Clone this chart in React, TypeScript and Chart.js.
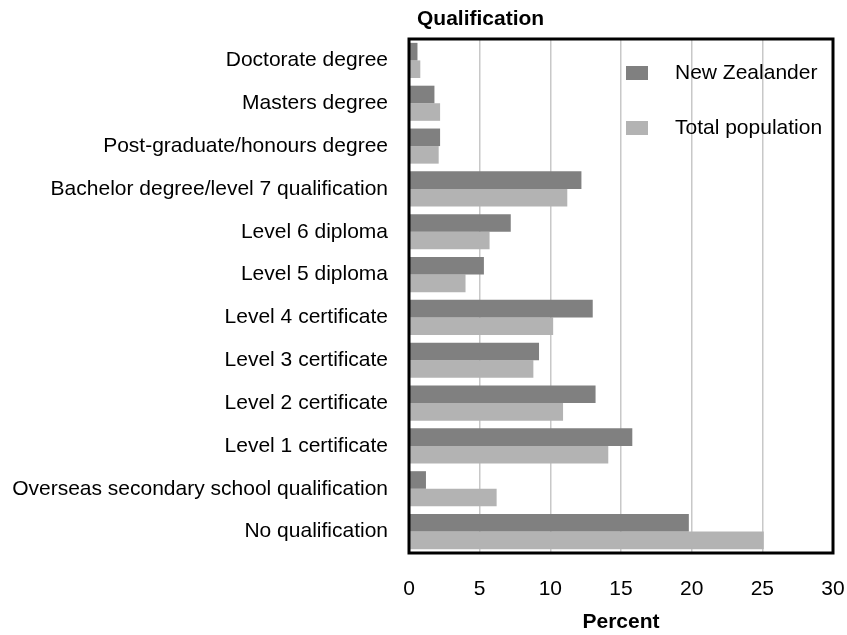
import React, { useEffect, useRef } from "react";
import { Chart, registerables } from "chart.js";

Chart.register(...registerables);

const categories = [
  "Doctorate degree",
  "Masters degree",
  "Post-graduate/honours degree",
  "Bachelor degree/level 7 qualification",
  "Level 6 diploma",
  "Level 5 diploma",
  "Level 4 certificate",
  "Level 3 certificate",
  "Level 2 certificate",
  "Level 1 certificate",
  "Overseas secondary school qualification",
  "No qualification",
];

const newZealander = [0.6, 1.8, 2.2, 12.2, 7.2, 5.3, 13.0, 9.2, 13.2, 15.8, 1.2, 19.8];
const totalPopulation = [0.8, 2.2, 2.1, 11.2, 5.7, 4.0, 10.2, 8.8, 10.9, 14.1, 6.2, 25.1];

const xTicks = [0, 5, 10, 15, 20, 25, 30];

const FONT = "'Liberation Sans', Arial, Helvetica, sans-serif";

const framePlugin = {
  id: "frame",
  afterDraw(chart: any) {
    const { ctx, chartArea } = chart;
    const { left, right, top, bottom } = chartArea;
    ctx.save();
    // border
    ctx.strokeStyle = "#000000";
    ctx.lineWidth = 3;
    ctx.strokeRect(left, top, right - left, bottom - top);
    // y-axis title
    ctx.fillStyle = "#000000";
    ctx.font = `bold 21px ${FONT}`;
    ctx.textAlign = "left";
    ctx.textBaseline = "alphabetic";
    ctx.fillText("Qualification", left + 8, 25);
    // legend
    ctx.font = `21px ${FONT}`;
    ctx.textBaseline = "middle";
    chart.data.datasets.forEach((ds: any, i: number) => {
      const y = 73 + i * 55;
      ctx.fillStyle = ds.backgroundColor;
      ctx.fillRect(626, y - 7, 22, 14);
      ctx.fillStyle = "#000000";
      ctx.fillText(ds.label, 675, y);
    });
    ctx.restore();
  },
};

export default function App() {
  const ref = useRef<HTMLCanvasElement | null>(null);

  useEffect(() => {
    document.body.style.margin = "0";
    const canvas = ref.current;
    if (!canvas) return;
    const chart = new Chart(canvas, {
      type: "bar",
      data: {
        labels: categories,
        datasets: [
          {
            label: "New Zealander",
            data: newZealander,
            backgroundColor: "#808080",
            categoryPercentage: 0.82,
            barPercentage: 1.0,
          },
          {
            label: "Total population",
            data: totalPopulation,
            backgroundColor: "#b3b3b3",
            categoryPercentage: 0.82,
            barPercentage: 1.0,
          },
        ],
      },
      options: {
        indexAxis: "y",
        responsive: false,
        animation: false,
        layout: { padding: { left: 0, right: 14, top: 39, bottom: 0 } },
        plugins: {
          legend: { display: false },
          tooltip: { enabled: false },
          title: { display: false },
        },
        scales: {
          x: {
            min: 0,
            max: 30,
            afterBuildTicks: (scale: any) => {
              scale.ticks = xTicks.map((v) => ({ value: v }));
            },
            afterFit: (scale: any) => {
              scale.height = 82;
              scale.paddingRight = 0;
              scale.paddingLeft = 0;
            },
            grid: {
              color: "#c8c8c8",
              lineWidth: 1.5,
              drawTicks: false,
            },
            border: { display: false },
            ticks: {
              color: "#000000",
              font: { family: FONT, size: 21 },
              padding: 24,
              maxRotation: 0,
            },
            title: {
              display: true,
              text: "Percent",
              color: "#000000",
              font: { family: FONT, size: 21, weight: "bold" },
              padding: { top: 4, bottom: 0 },
            },
          },
          y: {
            afterFit: (scale: any) => {
              scale.width = 409;
            },
            grid: { display: false, drawTicks: false },
            border: { display: false },
            ticks: {
              color: "#000000",
              font: { family: FONT, size: 21 },
              padding: 21,
              autoSkip: false,
            },
          },
        },
      },
      plugins: [framePlugin],
    });
    return () => chart.destroy();
  }, []);

  return (
    <div style={{ width: 847, height: 635 }}>
      <canvas ref={ref} width={847} height={635} style={{ display: "block" }} />
    </div>
  );
}
